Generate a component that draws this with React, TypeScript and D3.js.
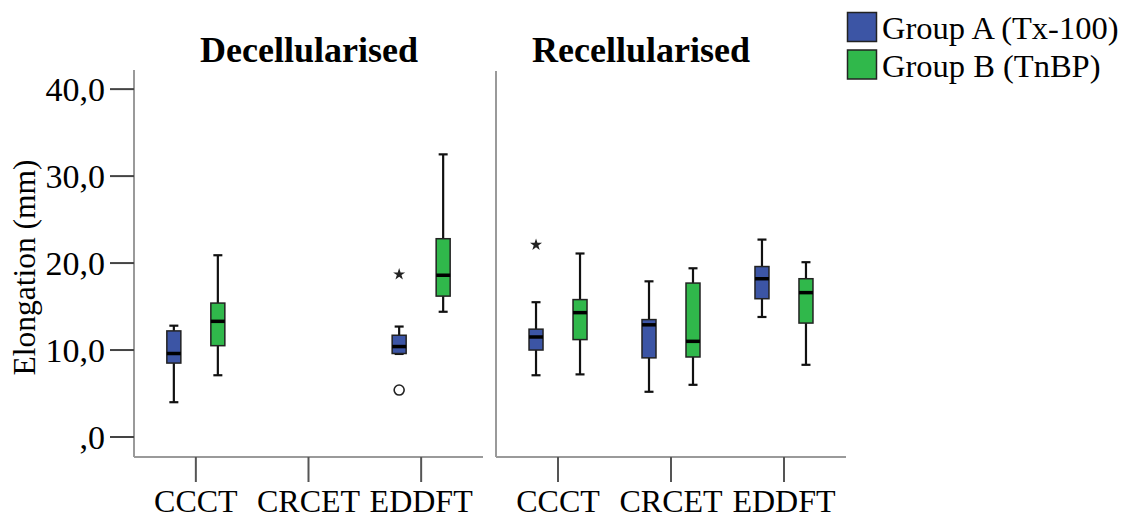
import React from "react";
import * as d3 from "d3";

// Categories, panels and groups
const categories = ["CCCT", "CRCET", "EDDFT"];
const panelTitles = ["Decellularised", "Recellularised"];
const groupNames = ["Group A (Tx-100)", "Group B (TnBP)"];
const groupColors = ["#3c55a5", "#30b84b"];

// Five-number summaries per category: [min, q1, median, q3, max]; null = no data
const decellA: (number[] | null)[] = [[4.0, 8.5, 9.6, 12.2, 12.8], null, [9.55, 9.6, 10.4, 11.7, 12.7]];
const decellB: (number[] | null)[] = [[7.1, 10.5, 13.3, 15.4, 20.9], null, [14.4, 16.2, 18.6, 22.8, 32.5]];
const recellA: (number[] | null)[] = [[7.1, 10.0, 11.5, 12.4, 15.5], [5.2, 9.1, 12.9, 13.5, 17.9], [13.8, 15.9, 18.2, 19.6, 22.7]];
const recellB: (number[] | null)[] = [[7.2, 11.2, 14.3, 15.8, 21.1], [6.0, 9.2, 11.0, 17.7, 19.4], [8.3, 13.1, 16.6, 18.2, 20.1]];

// Outliers: [panel, group, category, value]
const outlierCircles: [number, number, number, number][] = [[0, 0, 2, 5.4]];
const extremeStars: [number, number, number, number][] = [[0, 0, 2, 18.7], [1, 0, 0, 22.1]];

const yTicks = [0, 10, 20, 30, 40];
const yTickLabels = [",0", "10,0", "20,0", "30,0", "40,0"];

const panelData = [
  [decellA, decellB],
  [recellA, recellB],
];

const W = 1133;
const H = 520;
const plotTop = 70;
const plotBottom = 457;
const panelX: [number, number][] = [
  [134, 483],
  [496, 846],
];
const titleCenters = [309, 641];
const serif = "'Liberation Serif', 'Times New Roman', serif";

export default function App() {
  const y = d3.scaleLinear().domain([-2.3, 42.2]).range([plotBottom, plotTop]);
  const xScales = panelX.map(([a, b]) =>
    d3.scalePoint<string>().domain(categories).range([a, b]).padding(0.549)
  );
  const offset = 22;
  const boxW = 14;
  const capW = 9;
  const star = d3.symbol().type(d3.symbolStar).size(45)() as string;

  return (
    <svg width={W} height={H} style={{ position: "absolute", left: 0, top: 0, background: "#fff" }}>
      {/* panel titles */}
      {panelTitles.map((t, i) => (
        <text key={t} x={titleCenters[i]} y={62} textAnchor="middle" fontFamily={serif} fontWeight="bold" fontSize={36}>
          {t}
        </text>
      ))}

      {/* y axis */}
      <line x1={panelX[0][0]} x2={panelX[0][0]} y1={plotTop} y2={plotBottom} stroke="#9a9a9a" strokeWidth={2} />
      {yTicks.map((v, i) => (
        <g key={v}>
          <line x1={110} x2={panelX[0][0]} y1={y(v)} y2={y(v)} stroke="#444" strokeWidth={2} />
          <text x={105} y={y(v)} dy="0.35em" textAnchor="end" fontFamily={serif} fontSize={34}>
            {yTickLabels[i]}
          </text>
        </g>
      ))}
      <text
        transform={`translate(35, ${(plotTop + plotBottom) / 2 + 4}) rotate(-90)`}
        textAnchor="middle"
        fontFamily={serif}
        fontSize={31.5}
      >
        Elongation (mm)
      </text>

      {/* divider between panels */}
      <line x1={panelX[1][0]} x2={panelX[1][0]} y1={plotTop + 1} y2={plotBottom} stroke="#9a9a9a" strokeWidth={2} />

      {panelX.map(([a, b], p) => {
        const x = xScales[p];
        return (
          <g key={p}>
            <line x1={a} x2={b} y1={plotBottom} y2={plotBottom} stroke="#9a9a9a" strokeWidth={2} />
            {categories.map((c) => (
              <g key={c}>
                <line x1={x(c)} x2={x(c)} y1={plotBottom} y2={482} stroke="#555" strokeWidth={2} />
                <text x={x(c)} y={512} textAnchor="middle" fontFamily={serif} fontSize={32}>
                  {c}
                </text>
              </g>
            ))}
            {panelData[p].map((series, g) =>
              series.map((s, ci) => {
                if (!s) return null;
                const cx = (x(categories[ci]) as number) + (g === 0 ? -offset : offset);
                const [mn, q1, md, q3, mx] = s;
                return (
                  <g key={`${g}-${ci}`}>
                    <line x1={cx} x2={cx} y1={y(mx)} y2={y(q3)} stroke="#111" strokeWidth={2.2} />
                    <line x1={cx} x2={cx} y1={y(q1)} y2={y(mn)} stroke="#111" strokeWidth={2.2} />
                    <line x1={cx - capW / 2} x2={cx + capW / 2} y1={y(mx)} y2={y(mx)} stroke="#111" strokeWidth={2.2} />
                    <line x1={cx - capW / 2} x2={cx + capW / 2} y1={y(mn)} y2={y(mn)} stroke="#111" strokeWidth={2.2} />
                    <rect
                      x={cx - boxW / 2}
                      y={y(q3)}
                      width={boxW}
                      height={Math.max(1, y(q1) - y(q3))}
                      fill={groupColors[g]}
                      stroke="#222"
                      strokeWidth={1.5}
                    />
                    <line x1={cx - boxW / 2} x2={cx + boxW / 2} y1={y(md)} y2={y(md)} stroke="#000" strokeWidth={3.5} />
                  </g>
                );
              })
            )}
          </g>
        );
      })}

      {/* outliers */}
      {outlierCircles.map(([p, g, ci, v], i) => {
        const cx = (xScales[p](categories[ci]) as number) + (g === 0 ? -offset : offset);
        return <circle key={`o${i}`} cx={cx} cy={y(v)} r={5} fill="#fff" stroke="#222" strokeWidth={1.6} />;
      })}
      {extremeStars.map(([p, g, ci, v], i) => {
        const cx = (xScales[p](categories[ci]) as number) + (g === 0 ? -offset : offset);
        return <path key={`s${i}`} d={star} transform={`translate(${cx},${y(v)})`} fill="#222" />;
      })}

      {/* legend */}
      {groupNames.map((n, i) => (
        <g key={n} transform={`translate(847, ${12 + i * 37.5})`}>
          <rect x={0.5} y={0.5} width={29} height={29} fill={groupColors[i]} stroke="#222" strokeWidth={1.5} />
          <text x={35} y={27} fontFamily={serif} fontSize={32.5}>
            {n}
          </text>
        </g>
      ))}
    </svg>
  );
}
